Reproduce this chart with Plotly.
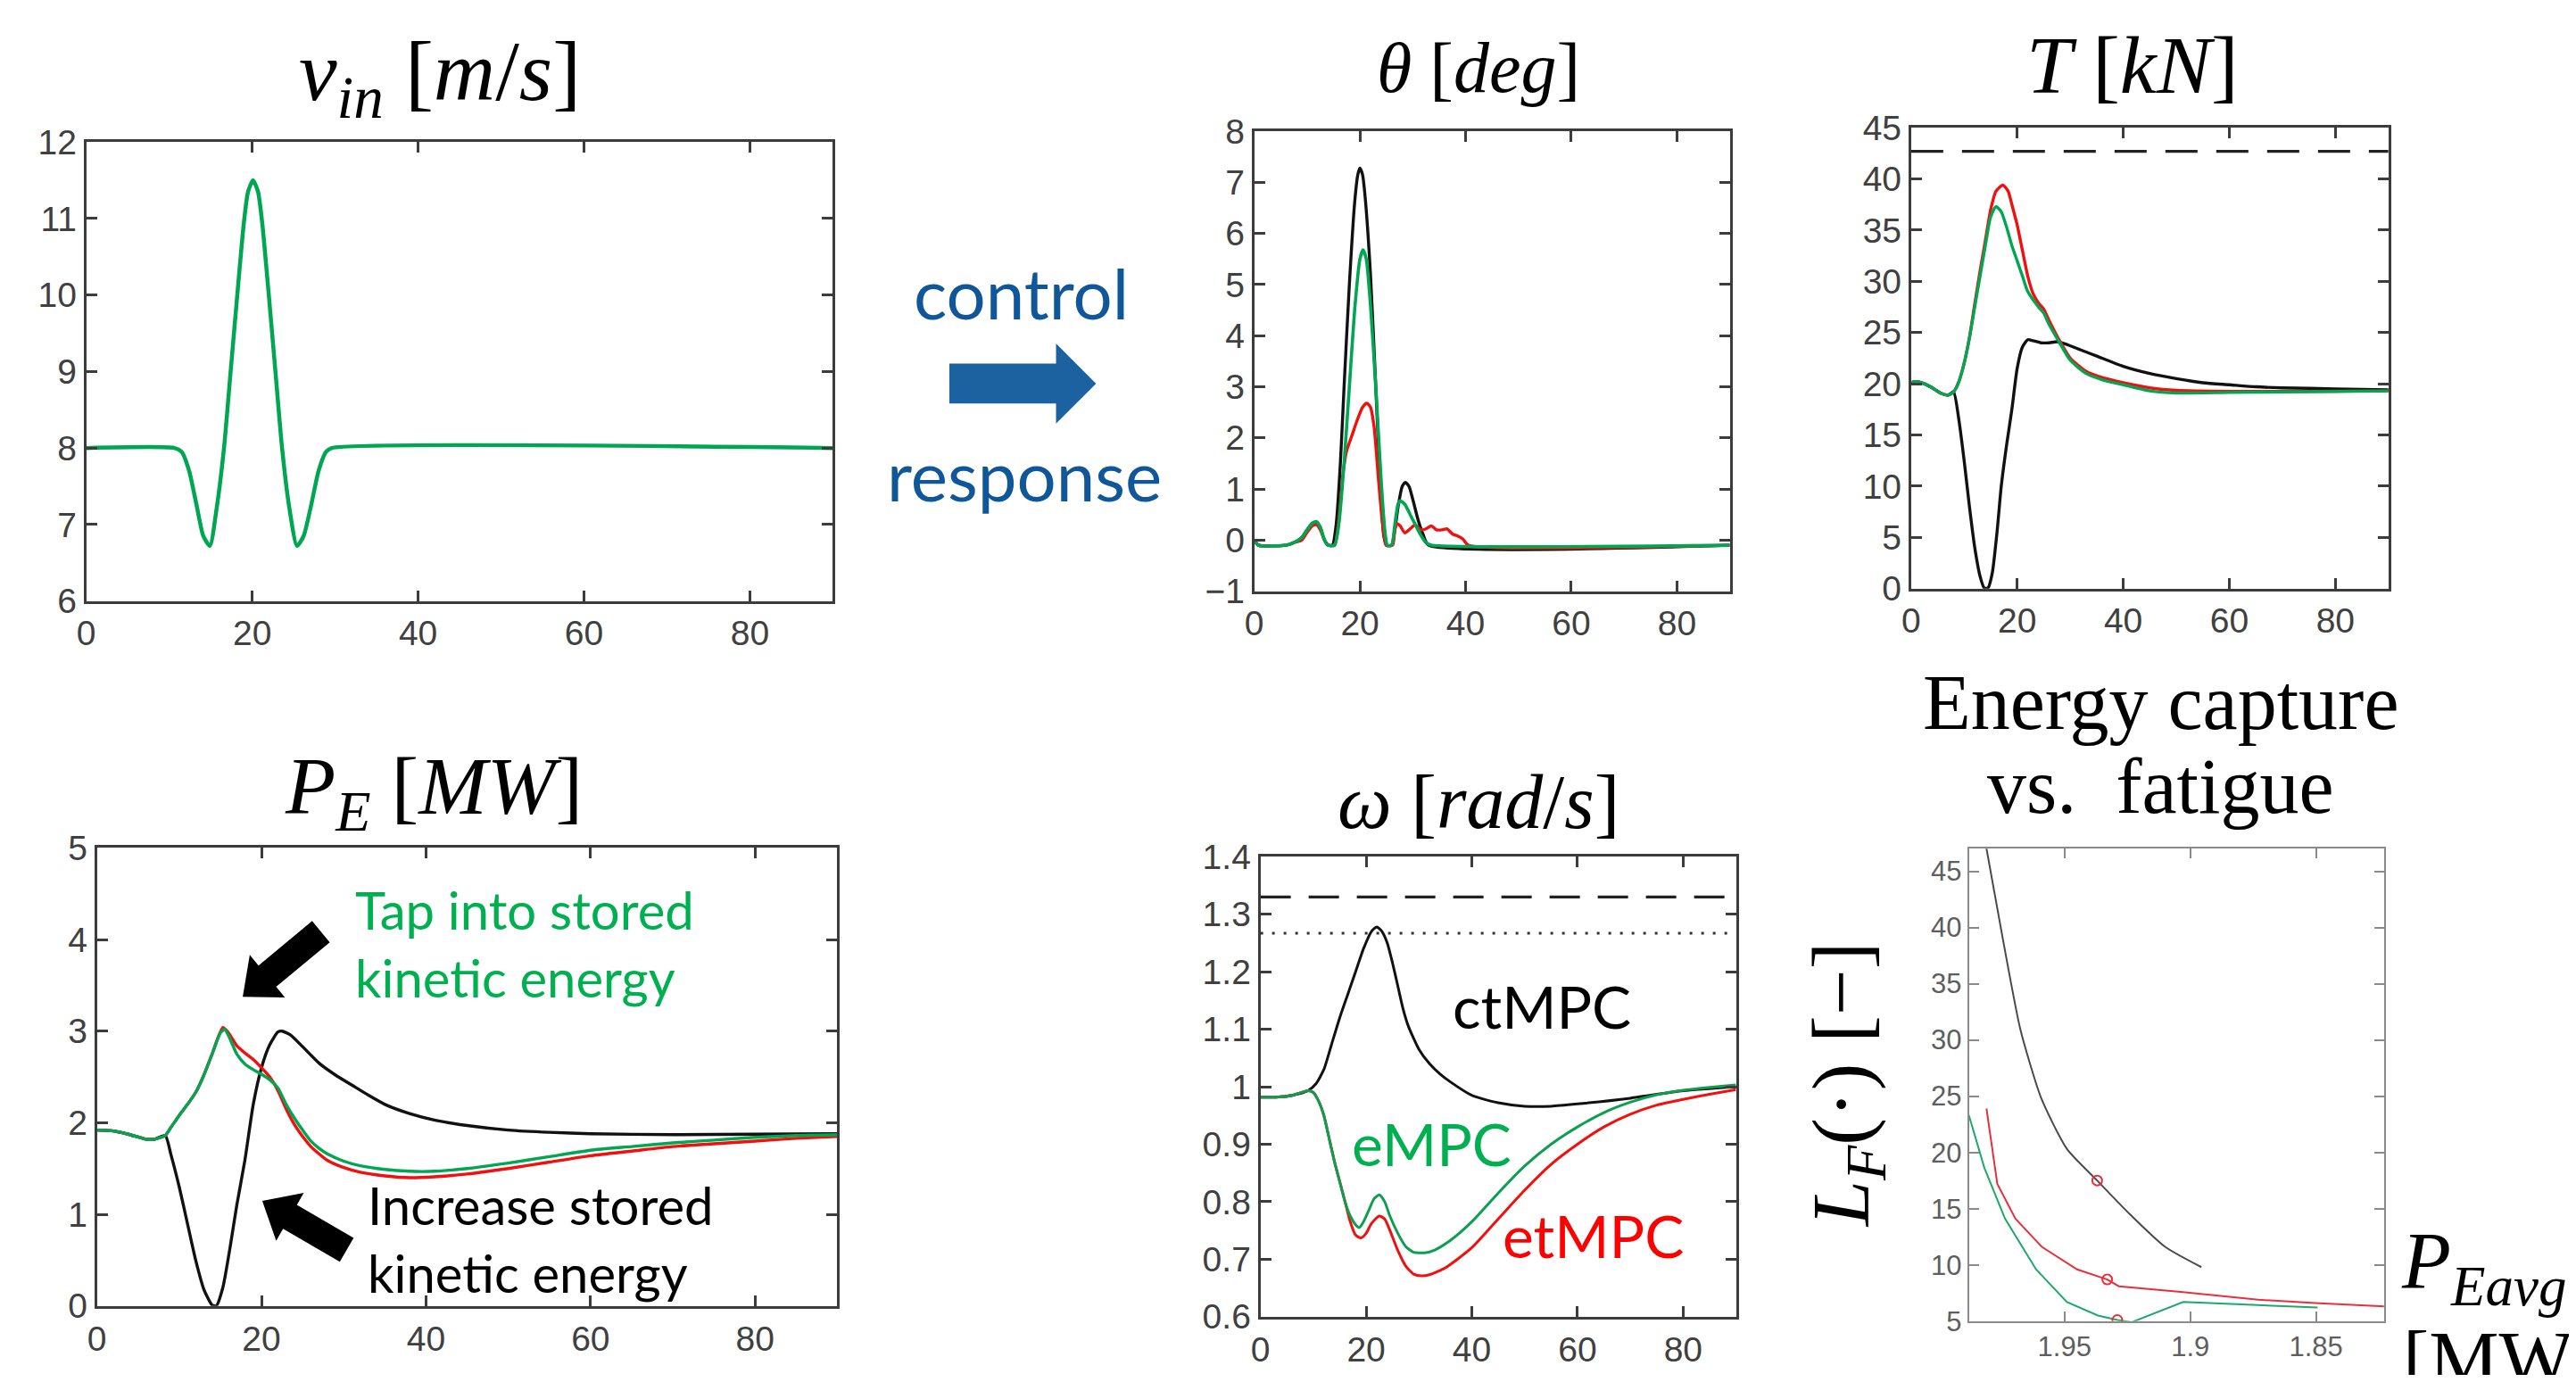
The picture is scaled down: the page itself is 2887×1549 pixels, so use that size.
import math
import plotly.graph_objects as go

W, H = 2887, 1549          # page size
OFF = 8                    # default body margin of the page
FW, FH = W - 2 * OFF, H - 2 * OFF   # figure size so the page never overflows
# observed vertical mapping of the photographed page (obs = VA + VB * page_y)
VA, VB = 18.9, 0.973

# ---------------- data ----------------
# wind speed v_in [m/s]
vin_t = [0, 10.6, 11.5, 12.4, 13.3, 14.1, 14.9, 15.7, 16.6, 17.4, 18.2, 19.0, 19.5, 20.1, 20.7, 21.2,
         22.0, 22.8, 23.6, 24.5, 25.4, 26.2, 27.1, 28.0, 28.9, 29.6, 90]
vin_v = [8, 8, 7.95, 7.7, 7.25, 6.85, 6.72, 7.2, 8.0, 9.0, 10.0, 10.95, 11.35, 11.5, 11.35, 10.95,
         10.0, 9.0, 8.0, 7.2, 6.72, 6.85, 7.25, 7.7, 7.95, 8, 8]

# pitch theta [deg]
th_ct_t = [0, 0.8, 6, 7.5, 9, 10, 11, 11.8, 12.5, 13.3, 14, 14.8, 15.5, 16.3, 17, 18, 19, 19.6, 20, 20.5,
           21, 22, 23, 23.8, 24.5, 25, 26, 26.6, 27.3, 28, 28.6, 29.3, 30, 31, 32, 33, 90]
th_ct_v = [0, -0.1, -0.1, -0.05, 0.05, 0.2, 0.33, 0.35, 0.25, 0.0, -0.1, -0.1, 0.3, 1.5, 3.0, 5.0, 6.6,
           7.15, 7.28, 7.15, 6.7, 5.2, 3.0, 1.2, 0.1, -0.1, -0.1, 0.2, 0.7, 1.05, 1.13, 1.05, 0.8, 0.4,
           0.1, -0.1, -0.1]
th_et_t = [0, 0.8, 6, 7.5, 9, 10, 11, 11.8, 12.5, 13.3, 14, 15.2, 16, 16.8, 17.5, 18.5, 19.5, 20.5, 21.3,
           22, 22.7, 23.5, 24.3, 25, 26.2, 26.6, 27, 27.6, 28.5, 29.5, 30.5, 31.5, 32.5, 33.5, 34.5,
           35.5, 36.5, 37.5, 38.5, 39.5, 40.5, 90]
th_et_v = [0, -0.1, -0.1, -0.05, 0.0, 0.15, 0.28, 0.3, 0.2, 0.0, -0.1, -0.1, 0.4, 1.3, 1.75, 2.05, 2.35,
           2.6, 2.68, 2.6, 2.2, 1.2, 0.3, -0.1, -0.1, 0.2, 0.32, 0.28, 0.14, 0.22, 0.3, 0.2, 0.22, 0.28,
           0.2, 0.2, 0.22, 0.12, 0.08, 0.02, -0.1, -0.1]
th_e_t = [0, 0.8, 6, 7.5, 9, 10, 11, 11.8, 12.5, 13.3, 14, 15.2, 16, 17, 18, 19, 20, 20.6, 21.2, 22, 23,
          24, 24.7, 25.2, 26, 26.6, 27.2, 27.6, 28.5, 29.5, 30.5, 31.5, 32.5, 33.5, 90]
th_e_v = [0, -0.1, -0.1, -0.05, 0.05, 0.2, 0.33, 0.36, 0.25, 0.0, -0.1, -0.1, 0.3, 1.5, 3.0, 4.5, 5.5,
          5.68, 5.5, 4.6, 3.0, 1.2, 0.2, -0.1, -0.1, 0.3, 0.7, 0.77, 0.7, 0.5, 0.3, 0.1, -0.05, -0.1, -0.1]

# tower load T [kN]
T_ct_t = [0, 1, 2.5, 4, 5.5, 7, 8, 9, 10, 11, 12, 13, 13.8, 14.5, 15.3, 16.2, 17, 18, 19, 20, 21, 22, 23,
          24.5, 26, 27.5, 29, 32, 35, 40, 45, 50, 55, 60, 65, 70, 80, 90]
T_ct_v = [20.1, 20.2, 20.0, 19.6, 19.1, 18.9, 19.2, 16.5, 12.5, 8.0, 4.0, 1.2, 0.05, 0.05, 1.5, 5.5, 10.0,
          14.0, 17.5, 21.5, 23.6, 24.3, 24.2, 24.0, 24.0, 24.1, 23.9, 23.3, 22.7, 21.7, 21.0, 20.5,
          20.1, 19.9, 19.7, 19.6, 19.5, 19.4]
T_et_t = [0, 1, 2.5, 4, 5.5, 7, 8, 9, 10, 11, 12, 13, 14, 15, 16, 17.3, 18.3, 19, 20, 21, 22, 23, 24, 25,
          26, 28, 30, 33, 36, 40, 45, 50, 60, 70, 90]
T_et_v = [20.1, 20.2, 20.0, 19.6, 19.1, 18.9, 19.2, 20.2, 22, 24.5, 27.8, 31, 34, 37, 38.8, 39.4, 38.8,
          37.5, 35.5, 33, 30.5, 28.8, 27.9, 27.3, 26.2, 24.2, 22.5, 21.2, 20.6, 20.1, 19.6, 19.35,
          19.25, 19.25, 19.3]
T_e_t = [0, 1, 2.5, 4, 5.5, 7, 8, 9, 10, 11, 12, 13, 14, 15, 16, 17, 18, 19, 20, 21, 22, 24, 25, 26, 28,
         30, 33, 36, 40, 45, 50, 60, 70, 80, 90]
T_e_v = [20.1, 20.2, 20.0, 19.6, 19.1, 18.9, 19.2, 20.2, 22, 24.5, 27.5, 30.5, 33.5, 36.3, 37.3, 36.8,
         35.3, 33.5, 32, 30.5, 29, 27.5, 26.9, 25.8, 24.0, 22.3, 21.0, 20.4, 19.9, 19.3, 19.1, 19.15,
         19.2, 19.25, 19.3]
T_limit = 42.7

# generated power P_E [MW]
P_ct_t = [0, 2, 4, 6, 7, 8.3, 9, 10, 11, 12, 13, 14, 14.5, 15.3, 16.2, 17, 18, 19, 20, 21, 22, 22.5,
          23.5, 25, 27, 29, 31, 33, 35, 38, 41, 45, 50, 55, 60, 70, 80, 90]
P_ct_v = [1.92, 1.91, 1.87, 1.82, 1.82, 1.86, 1.65, 1.3, 0.9, 0.5, 0.18, 0.01, 0.0, 0.2, 0.65, 1.1, 1.6,
          2.2, 2.6, 2.85, 2.99, 3.0, 2.96, 2.83, 2.65, 2.52, 2.41, 2.3, 2.2, 2.1, 2.03, 1.97, 1.92,
          1.895, 1.88, 1.87, 1.875, 1.88]
P_et_t = [0, 2, 4, 6, 7, 8.3, 9, 10, 11, 12, 13, 14, 15.3, 16, 17, 18, 19, 20, 21, 22, 23, 24, 25, 26,
          27, 28, 30, 32, 35, 38, 41, 45, 50, 55, 60, 65, 70, 75, 80, 85, 90]
P_et_v = [1.92, 1.91, 1.87, 1.82, 1.82, 1.86, 1.95, 2.08, 2.2, 2.33, 2.52, 2.75, 3.04, 2.98, 2.84, 2.76,
          2.69, 2.6, 2.5, 2.35, 2.15, 1.98, 1.85, 1.74, 1.66, 1.59, 1.51, 1.46, 1.42, 1.4, 1.41, 1.44,
          1.5, 1.57, 1.64, 1.69, 1.74, 1.77, 1.8, 1.83, 1.85]
P_e_t = [0, 2, 4, 6, 7, 8.3, 9, 10, 11, 12, 13, 14, 15, 15.5, 16, 17, 18, 19, 20, 21, 22, 23, 24, 25, 26,
         27, 28, 30, 32, 35, 38, 41, 45, 50, 55, 60, 65, 70, 75, 80, 85, 90]
P_e_v = [1.92, 1.91, 1.87, 1.82, 1.82, 1.86, 1.95, 2.08, 2.2, 2.33, 2.52, 2.75, 2.98, 3.02, 2.95, 2.75,
         2.64, 2.58, 2.53, 2.47, 2.38, 2.2, 2.05, 1.92, 1.8, 1.72, 1.66, 1.58, 1.53, 1.49, 1.47, 1.47,
         1.5, 1.56, 1.63, 1.7, 1.74, 1.78, 1.81, 1.84, 1.86, 1.87]

# rotor speed omega [rad/s]
w_ct_t = [0, 3, 6, 9, 10.5, 12, 13.5, 15, 16.5, 18, 19.5, 21, 22, 23, 24, 25, 26, 27, 28, 30, 32, 34, 36,
          40, 45, 50, 55, 60, 70, 80, 90]
w_ct_v = [0.982, 0.982, 0.985, 0.993, 1.005, 1.03, 1.075, 1.12, 1.16, 1.2, 1.24, 1.27, 1.278, 1.27,
          1.25, 1.215, 1.175, 1.135, 1.105, 1.065, 1.04, 1.022, 1.008, 0.985, 0.972, 0.966, 0.966,
          0.97, 0.98, 0.993, 1.0]
w_et_t = [0, 3, 6, 9, 10, 11, 12, 13, 14, 15, 16, 17, 18, 19, 20, 21, 22.5, 23.5, 24.5, 26, 27.5, 29,
          30.5, 32, 35, 40, 45, 50, 55, 60, 65, 70, 75, 80, 85, 90]
w_et_v = [0.982, 0.982, 0.985, 0.993, 0.99, 0.975, 0.95, 0.91, 0.87, 0.835, 0.8, 0.765, 0.742, 0.737,
          0.745, 0.762, 0.775, 0.77, 0.75, 0.715, 0.688, 0.674, 0.671, 0.673, 0.685, 0.72, 0.77, 0.82,
          0.865, 0.9, 0.93, 0.952, 0.968, 0.978, 0.987, 0.995]
w_e_t = [0, 3, 6, 9, 10, 11, 12, 13, 14, 15, 16, 17, 18, 18.7, 19.5, 20.5, 21.5, 22.5, 23.5, 24.5, 26,
         27.5, 29, 31, 33, 36, 40, 45, 50, 55, 60, 65, 70, 75, 80, 85, 90]
w_e_v = [0.982, 0.982, 0.985, 0.993, 0.99, 0.975, 0.95, 0.91, 0.87, 0.835, 0.8, 0.775, 0.76, 0.755,
         0.765, 0.785, 0.805, 0.812, 0.8, 0.775, 0.745, 0.722, 0.712, 0.711, 0.716, 0.733, 0.765,
         0.815, 0.862, 0.9, 0.93, 0.955, 0.973, 0.986, 0.994, 0.999, 1.003]
w_limit_dash = 1.33
w_limit_dot = 1.267

# energy capture vs. fatigue trade-off
tf_ct_p = [1.9818, 1.9746, 1.9675, 1.9592, 1.949, 1.937, 1.924, 1.910, 1.8956]
tf_ct_l = [48, 39.1, 30.9, 24.8, 20.3, 17.5, 14.5, 11.6, 9.8]
tf_et_p = [1.981, 1.9767, 1.9695, 1.959, 1.945, 1.933, 1.9284, 1.9038, 1.873, 1.8504, 1.8227]
tf_et_l = [23.9, 17.2, 14.1, 11.6, 9.6, 8.7, 8.1, 7.6, 6.9, 6.6, 6.3]
tf_e_p = [1.988, 1.9818, 1.9736, 1.9613, 1.949, 1.9367, 1.9289, 1.9233, 1.9028, 1.8833, 1.8494]
tf_e_l = [23.3, 18.6, 14.1, 9.6, 6.7, 5.5, 5.1, 4.9, 6.7, 6.5, 6.2]
tf_mark_p = [1.937, 1.933, 1.929]
tf_mark_l = [17.5, 8.7, 5.1]

time_ticks = [0, 20, 40, 60, 80]
w_ticks = [0.6, 0.7, 0.8, 0.9, 1.0, 1.1, 1.2, 1.3, 1.4]
w_ticktext = ['0.6', '0.7', '0.8', '0.9', '1', '1.1', '1.2', '1.3', '1.4']
p_ticks = [1.95, 1.9, 1.85]
p_ticktext = ['1.95', '1.9', '1.85']

# ---------------- styling ----------------
GREEN = '#00A651'
RED = '#F01010'
BLACK = '#111111'
AX = '#3c3c3c'
TXT_GREEN = '#00B050'
BLUE_TXT = '#0F5799'
BLUE_ARR = '#1B63A0'
SERIF = 'Liberation Serif'
SANS = 'Liberation Sans'
CAL = 'Lato'


def PX(x):
    return (x - OFF) / FW


def PY(y):
    page_y = (y - VA) / VB
    return 1 - (page_y - OFF) / FH


def dom_x(l, r):
    return [PX(l), PX(r)]


def dom_y(t, b):
    return [PY(b), PY(t)]


fig = go.Figure()

panels = [
    ('1', (86, 926), (157, 672), [0, 90], [6, 12]),
    ('2', (1400, 1935), (145, 661), [0, 90], [-1, 8]),
    ('3', (2139, 2676), (141, 658), [0, 90], [0, 45]),
    ('4', (98, 931), (949, 1463), [0, 90], [0, 5]),
    ('5', (1407, 1942), (959, 1475), [0, 90], [0.6, 1.4]),
    ('6', (2204, 2671), (950, 1480), [1.988, 1.823], [5, 47]),
]

ytick_sets = {
    '1': dict(tickvals=[6, 7, 8, 9, 10, 11, 12]),
    '2': dict(tickvals=list(range(-1, 9))),
    '3': dict(tickvals=[0, 5, 10, 15, 20, 25, 30, 35, 40, 45]),
    '4': dict(tickvals=[0, 1, 2, 3, 4, 5]),
    '5': dict(tickvals=w_ticks, ticktext=w_ticktext),
    '6': dict(tickvals=[5, 10, 15, 20, 25, 30, 35, 40, 45]),
}

layout_axes = {}
for name, (xl, xr), (yt, yb), xr_, yr_ in panels:
    light = name == '6'
    lc = '#8a8a8a' if light else AX
    lw = 2 if light else 3
    fs = 31 if light else 39
    fc = '#5e5e5e' if light else '#404040'
    common = dict(showline=True, linecolor=lc, linewidth=lw, mirror='ticks', ticks='inside',
                  ticklen=11 if light else 12, tickwidth=lw, tickcolor=lc, showgrid=False,
                  zeroline=False, fixedrange=True,
                  tickfont=dict(family=SANS, size=fs, color=fc))
    xkey = 'xaxis' if name == '1' else 'xaxis' + name
    ykey = 'yaxis' if name == '1' else 'yaxis' + name
    xa = dict(common, domain=dom_x(xl, xr), range=xr_, anchor='y' if name == '1' else 'y' + name)
    if light:
        xa.update(tickvals=p_ticks, ticktext=p_ticktext)
    else:
        xa.update(tickvals=time_ticks)
    ya = dict(common, domain=dom_y(yt, yb), range=yr_, anchor='x' if name == '1' else 'x' + name)
    ya.update(ytick_sets[name])
    layout_axes[xkey] = xa
    layout_axes[ykey] = ya


def add_line(x, y, panel, color, width, dash=None, shape='spline'):
    xa = 'x' if panel == '1' else 'x' + panel
    ya = 'y' if panel == '1' else 'y' + panel
    ln = dict(color=color, width=width, shape=shape)
    if shape == 'spline':
        ln['smoothing'] = 0.6
    if dash:
        ln['dash'] = dash
    fig.add_trace(go.Scatter(x=x, y=y, xaxis=xa, yaxis=ya, mode='lines', line=ln,
                             showlegend=False, hoverinfo='skip'))


# panel 1: wind
add_line(vin_t, vin_v, '1', GREEN, 4.5)
# panel 2: pitch
add_line(th_ct_t, th_ct_v, '2', BLACK, 3.4)
add_line(th_et_t, th_et_v, '2', RED, 3.4)
add_line(th_e_t, th_e_v, '2', GREEN, 3.6)
# panel 3: tower load
add_line([0, 90], [T_limit, T_limit], '3', '#222222', 3.4, dash='36px,21px', shape='linear')
add_line(T_ct_t, T_ct_v, '3', BLACK, 3.4)
add_line(T_et_t, T_et_v, '3', RED, 3.4)
add_line(T_e_t, T_e_v, '3', GREEN, 3.4)
# panel 4: power
add_line(P_ct_t, P_ct_v, '4', BLACK, 3.4)
add_line(P_et_t, P_et_v, '4', RED, 3.4)
add_line(P_e_t, P_e_v, '4', GREEN, 3.4)
# panel 5: rotor speed
add_line([0, 90], [w_limit_dash, w_limit_dash], '5', '#222222', 3.2, dash='34px,20px', shape='linear')
add_line([0, 90], [w_limit_dot, w_limit_dot], '5', '#333333', 3, dash='3px,10px', shape='linear')
add_line(w_ct_t, w_ct_v, '5', BLACK, 3)
add_line(w_et_t, w_et_v, '5', RED, 3)
add_line(w_e_t, w_e_v, '5', '#0E9E50', 3)
# panel 6: trade-off
add_line(tf_ct_p, tf_ct_l, '6', '#4a4a4a', 2)
add_line(tf_et_p, tf_et_l, '6', '#E8303C', 2, shape='linear')
add_line(tf_e_p, tf_e_l, '6', '#1FA86A', 2, shape='linear')
fig.add_trace(go.Scatter(x=tf_mark_p, y=tf_mark_l, xaxis='x6', yaxis='y6', mode='markers',
                         marker=dict(symbol='circle-open', size=11, color='#E8303C',
                                     line=dict(width=2, color='#E8303C')),
                         showlegend=False, hoverinfo='skip'))

# cropped axis label under the wind panel (only its top edge is visible in the original)
dA = layout_axes['yaxis']['domain']
time_lbl_y = 6 + (PY(746) - dA[0]) / (dA[1] - dA[0]) * 6
fig.add_trace(go.Scatter(x=[45], y=[time_lbl_y], xaxis='x', yaxis='y',
                         mode='text', text=['Time [s]'], textposition='middle center',
                         textfont=dict(family=SANS, size=37, color='#404040'),
                         cliponaxis=False, showlegend=False, hoverinfo='skip'))

# ---------------- text ----------------
ann = []


def text(x, y, s, size, color='black', family=SERIF, xanchor='center', yanchor='middle', angle=0):
    ann.append(dict(x=PX(x), y=PY(y), xref='paper', yref='paper', text=s, showarrow=False,
                    xanchor=xanchor, yanchor=yanchor, textangle=angle,
                    font=dict(family=family, size=size, color=color)))


text(484, 84, '<i>v</i><sub><i>in</i></sub> [<i>m</i>/<i>s</i>]', 96)
text(1652, 74, '<i>θ</i> [<i>deg</i>]', 80)
text(2388, 71, '<i>T</i> [<i>kN</i>]', 92)
text(477, 886, '<i>P</i><sub><i>E</i></sub> [<i>MW</i>]', 92)
text(1652, 898, '<i>ω</i> [<i>rad</i>/<i>s</i>]', 86)
text(2420, 786, 'Energy capture', 88)
text(2420, 880, 'vs.  fatigue', 88)
text(2066, 1215, '<i>L</i><sub><i>F</i></sub>(·) [−]', 92, angle=-90)
text(2688, 1420, '<i>P</i><sub><i>Eavg</i></sub>', 90, xanchor='left')
text(2690, 1472, '[MW]', 88, xanchor='left', yanchor='top')

text(1138, 326, 'control', 78, BLUE_TXT, CAL)
text(1141, 530, 'response', 78, BLUE_TXT, CAL)

text(386, 1018, 'Tap into stored', 58, TXT_GREEN, CAL, xanchor='left')
text(386, 1094, 'kinetic energy', 58, TXT_GREEN, CAL, xanchor='left')
text(401, 1350, 'Increase stored', 58, 'black', CAL, xanchor='left')
text(401, 1426, 'kinetic energy', 58, 'black', CAL, xanchor='left')

text(1621, 1126, 'ctMPC', 66, 'black', CAL, xanchor='left')
text(1508, 1281, 'eMPC', 66, TXT_GREEN, CAL, xanchor='left')
text(1677, 1384, 'etMPC', 66, '#FF0000', CAL, xanchor='left')


# ---------------- block arrows ----------------
def block_arrow(tail, tip, shaft_w, head_w, head_len):
    tx, ty = tail
    hx, hy = tip
    dx, dy = hx - tx, hy - ty
    L = math.hypot(dx, dy)
    ux, uy = dx / L, dy / L
    nx, ny = -uy, ux
    bx, by = hx - ux * head_len, hy - uy * head_len
    pts = [
        (tx + nx * shaft_w / 2, ty + ny * shaft_w / 2),
        (bx + nx * shaft_w / 2, by + ny * shaft_w / 2),
        (bx + nx * head_w / 2, by + ny * head_w / 2),
        (hx, hy),
        (bx - nx * head_w / 2, by - ny * head_w / 2),
        (bx - nx * shaft_w / 2, by - ny * shaft_w / 2),
        (tx - nx * shaft_w / 2, ty - ny * shaft_w / 2),
    ]
    return 'M ' + ' L '.join('%.5f,%.5f' % (PX(px), PY(py)) for px, py in pts) + ' Z'


shapes = []
for tail, tip, col, sw, hw, hl in [
    ((350, 1043), (262, 1116), 'black', 31, 62, 36),
    ((379, 1400), (284, 1345), 'black', 31, 62, 36),
    ((1057, 428), (1222, 428), BLUE_ARR, 45, 90, 45),
]:
    shapes.append(dict(type='path', xref='paper', yref='paper', path=block_arrow(tail, tip, sw, hw, hl),
                       fillcolor=col, line=dict(width=0), layer='above'))

# the original figure is cut just below the top of the "Time [s]" label
shapes.append(dict(type='rect', xref='paper', yref='paper', x0=PX(380), x1=PX(640), y0=PY(805), y1=PY(741),
                   fillcolor='white', line=dict(width=0), layer='above'))

fig.update_layout(width=FW, height=FH, margin=dict(l=0, r=0, t=0, b=0), paper_bgcolor='white',
                  plot_bgcolor='white', showlegend=False, annotations=ann, shapes=shapes,
                  **layout_axes)

fig.write_html("out.html", config={'displayModeBar': False})
